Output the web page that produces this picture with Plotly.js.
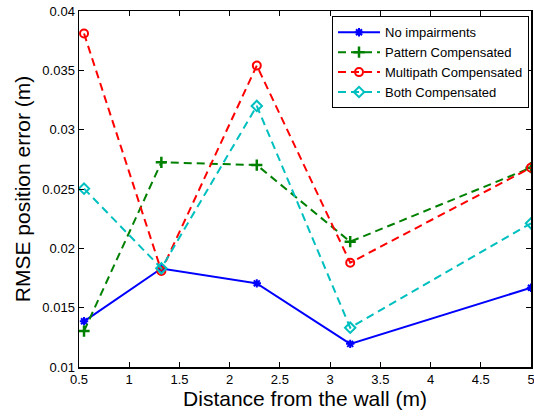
<!DOCTYPE html>
<html>
<head>
<meta charset="utf-8">
<script src="https://cdn.plot.ly/plotly-3.0.1.min.js"></script>
<style>html,body{margin:0;padding:0;background:#fff;}#chart{width:534px;height:418px;}</style>
</head>
<body>
<div id="chart"></div>
<script>
const distances = [0.55, 1.32, 2.27, 3.2, 5.0];
const noImpairments = [0.01385, 0.0183, 0.01705, 0.01195, 0.01668];
const patternComp = [0.01303, 0.02725, 0.02702, 0.02056, 0.0268];
const multipathComp = [0.0381, 0.0181, 0.0354, 0.01879, 0.0268];
const bothComp = [0.02503, 0.01832, 0.032, 0.01331, 0.02211];
const seriesNames = ["No impairments", "Pattern Compensated", "Multipath Compensated", "Both Compensated"];
const xTicks = [0.5, 1, 1.5, 2, 2.5, 3, 3.5, 4, 4.5, 5];
const xTickText = ["0.5", "1", "1.5", "2", "2.5", "3", "3.5", "4", "4.5", "5"];
const yTicks = [0.01, 0.015, 0.02, 0.025, 0.03, 0.035, 0.04];
const yTickText = ["0.01", "0.015", "0.02", "0.025", "0.03", "0.035", "0.04"];

const dash = "8px,5px";
const traces = [
  {x: distances, y: noImpairments, name: seriesNames[0], mode: "lines+markers",
   line: {color: "#0000ff", width: 2}, marker: {symbol: "asterisk-open", size: 7, color: "#0000ff", line: {color: "#0000ff", width: 2}}},
  {x: distances, y: patternComp, name: seriesNames[1], mode: "lines+markers",
   line: {color: "#008000", width: 2, dash: dash}, marker: {symbol: "cross-thin-open", size: 8, color: "#008000", line: {color: "#008000", width: 2.5}}},
  {x: distances, y: multipathComp, name: seriesNames[2], mode: "lines+markers",
   line: {color: "#ff0000", width: 2, dash: dash}, marker: {symbol: "circle-open", size: 8, color: "#ff0000", line: {color: "#ff0000", width: 2}}},
  {x: distances, y: bothComp, name: seriesNames[3], mode: "lines+markers",
   line: {color: "#00bfbf", width: 2, dash: dash}, marker: {symbol: "diamond-open", size: 8, color: "#00bfbf", line: {color: "#00bfbf", width: 2}}}
];

const fontFam = "Liberation Sans, Arial, sans-serif";
const axisCommon = {
  showgrid: false, zeroline: false, showline: true, linecolor: "#000", linewidth: 1.5,
  mirror: "ticks", ticks: "inside", ticklen: 5, tickwidth: 1, tickcolor: "#000",
  ticklabeloverflow: "allow",
  tickfont: {family: fontFam, size: 13, color: "#000"}
};

const layout = {
  width: 534, height: 418,
  margin: {l: 79, r: 3, t: 11, b: 51},
  paper_bgcolor: "#fff", plot_bgcolor: "#fff",
  showlegend: true,
  xaxis: Object.assign({}, axisCommon, {
    range: [0.5, 5], tickmode: "array", tickvals: xTicks, ticktext: xTickText,
    title: {text: "Distance from the wall (m)", font: {family: fontFam, size: 21, color: "#000"}, standoff: 3}
  }),
  yaxis: Object.assign({}, axisCommon, {
    range: [0.01, 0.04], tickmode: "array", tickvals: yTicks, ticktext: yTickText,
    title: {text: "RMSE position error (m)", font: {family: fontFam, size: 21, color: "#000"}, standoff: 6}
  }),
  legend: {
    x: 0.9956, y: 0.985, xanchor: "right", yanchor: "top",
    bgcolor: "#fff", bordercolor: "#000", borderwidth: 1,
    font: {family: fontFam, size: 13, color: "#000"},
    itemwidth: 42,
    tracegroupgap: 0
  }
};

Plotly.newPlot("chart", traces, layout, {staticPlot: true, displayModeBar: false});
</script>
</body>
</html>
